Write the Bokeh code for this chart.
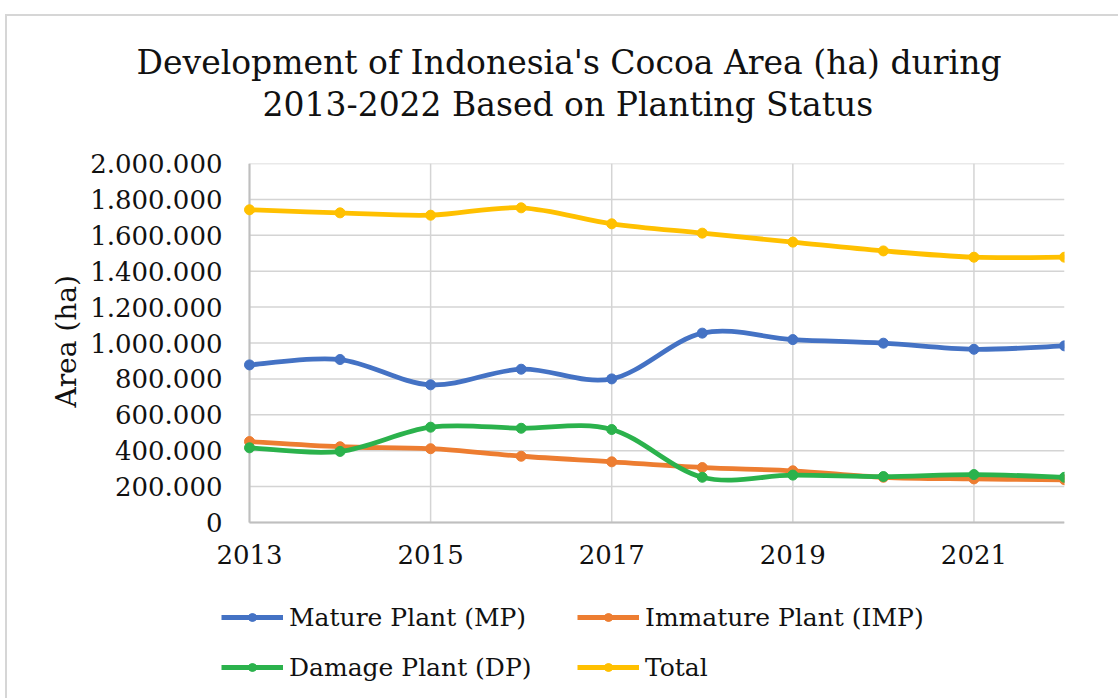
import numpy as np
from bokeh.plotting import figure
from bokeh.models import ColumnDataSource, FixedTicker, Legend, LegendItem, Title
from bokeh.embed import file_html
from bokeh.resources import INLINE

# ---------------- data ----------------
years = [2013, 2014, 2015, 2016, 2017, 2018, 2019, 2020, 2021, 2022]
mature_plant = [878000, 908000, 767000, 854000, 800000, 1055000, 1019000, 999000, 965000, 984000]
immature_plant = [451000, 422000, 411000, 369000, 338000, 306000, 288000, 252000, 243000, 238000]
damage_plant = [416000, 396000, 531000, 525000, 518000, 252000, 264000, 256000, 267000, 252000]
total = [1742000, 1725000, 1712000, 1753000, 1664000, 1612000, 1562000, 1513000, 1478000, 1478000]

series_names = ["Mature Plant (MP)", "Immature Plant (IMP)", "Damage Plant (DP)", "Total"]
series_values = [mature_plant, immature_plant, damage_plant, total]
series_colors = ["#4472C4", "#ED7D31", "#2BB24C", "#FFC000"]

x_ticks = [2013, 2015, 2017, 2019, 2021]
y_ticks = [0, 200000, 400000, 600000, 800000, 1000000, 1200000, 1400000, 1600000, 1800000, 2000000]
y_tick_labels = ["0", "200.000", "400.000", "600.000", "800.000", "1.000.000",
                 "1.200.000", "1.400.000", "1.600.000", "1.800.000", "2.000.000"]
y_max = 2000000

title_line1 = "Development of Indonesia's Cocoa Area (ha) during"
title_line2 = "2013-2022 Based on Planting Status"
y_label = "Area (ha)"

FONT = "DejaVu Serif"
TXT = "#111111"
GRID = "#d4d4d4"
AXIS = "#bfbfbf"


def smooth_segments(xs, ys, t=1.0 / 6.0):
    """Catmull-Rom style cubic Bezier control points (Excel 'smoothed line')."""
    xs = np.asarray(xs, dtype=float)
    ys = np.asarray(ys, dtype=float)
    n = len(xs)
    d = dict(x0=[], y0=[], x1=[], y1=[], cx0=[], cy0=[], cx1=[], cy1=[])
    for i in range(n - 1):
        a = i - 1 if i > 0 else i
        b = i + 2 if i + 2 < n else i + 1
        d["x0"].append(xs[i]); d["y0"].append(ys[i])
        d["x1"].append(xs[i + 1]); d["y1"].append(ys[i + 1])
        d["cx0"].append(xs[i] + (xs[i + 1] - xs[a]) * t)
        d["cy0"].append(ys[i] + (ys[i + 1] - ys[a]) * t)
        d["cx1"].append(xs[i + 1] - (xs[b] - xs[i]) * t)
        d["cy1"].append(ys[i + 1] - (ys[b] - ys[i]) * t)
    return d


# page geometry (page pixels); canvas is offset by the outer frame (margin + border)
OX, OY = 7, 16
W, H = 1120 - OX, 700 - OY
PX_FRAME_LEFT = 210                       # frame starts left of the value axis so the
PX_AXIS, PX_RIGHT = 249, 1064             # legend and the first year label are not clipped
PX_TOP, PX_ZERO, PX_BOTTOM = 163, 522, 700
x_start = years[0] - (PX_AXIS - PX_FRAME_LEFT) * (years[-1] - years[0]) / (PX_RIGHT - PX_AXIS)
y_start = -y_max * (PX_BOTTOM - PX_ZERO) / (PX_ZERO - PX_TOP)

p = figure(width=W, height=H, output_backend="svg", toolbar_location=None,
           x_range=(x_start, years[-1]), y_range=(y_start, y_max),
           min_border_left=PX_FRAME_LEFT - OX, min_border_right=1120 - PX_RIGHT,
           min_border_top=PX_TOP - OY, min_border_bottom=0)
p.styles = {"margin-left": "5px", "margin-top": "14px",
            "border-left": "2px solid #d6d6d6", "border-top": "2px solid #d6d6d6"}
p.background_fill_color = "white"
p.border_fill_color = "white"
p.outline_line_color = None

title_kw = dict(align="left", text_font=FONT, text_font_size="33px",
                text_font_style="normal", text_color=TXT)
p.add_layout(Title(text=title_line2, standoff=80, offset=13 + (PX_AXIS - PX_FRAME_LEFT), **title_kw), "above")
p.add_layout(Title(text=title_line1, standoff=-78, offset=-113 + (PX_AXIS - PX_FRAME_LEFT), **title_kw), "above")

# axes
p.xaxis.fixed_location = 0
p.xaxis.bounds = (years[0], years[-1])
p.xaxis.ticker = FixedTicker(ticks=x_ticks)
p.yaxis.ticker = FixedTicker(ticks=y_ticks)
p.yaxis.major_label_overrides = {v: s for v, s in zip(y_ticks, y_tick_labels)}
for ax in (p.xaxis, p.yaxis):
    ax.major_tick_line_color = None
    ax.minor_tick_line_color = None
    ax.major_tick_out = 0
    ax.major_tick_in = 0
    ax.major_label_text_font = FONT
    ax.major_label_text_font_size = "26px"
    ax.major_label_text_color = TXT
    ax.axis_line_width = 2
p.xaxis.axis_line_color = AXIS
p.yaxis.axis_line_color = None
p.yaxis.major_label_standoff = -(222 - PX_FRAME_LEFT)
p.xaxis.major_label_standoff = 22

# y-axis title as a rotated title in the left panel
p.add_layout(Title(text=y_label, align="left", offset=PX_BOTTOM - 407, standoff=10,
                   text_font=FONT, text_font_size="28px", text_font_style="normal",
                   text_color=TXT), "left")

# grid lines only over the plotting area
p.xgrid.visible = False
p.ygrid.visible = False
p.segment(x0=[years[0]] * len(y_ticks), y0=y_ticks, x1=[years[-1]] * len(y_ticks), y1=y_ticks,
          line_color=GRID, line_width=1.5)
p.segment(x0=x_ticks, y0=[0] * len(x_ticks), x1=x_ticks, y1=[y_max] * len(x_ticks),
          line_color=GRID, line_width=1.5)
# value-axis line at the first year
p.segment(x0=[years[0]], y0=[0], x1=[years[0]], y1=[y_max], line_color=AXIS, line_width=2)

items = {}
for name, vals, col in zip(series_names, series_values, series_colors):
    src = ColumnDataSource(smooth_segments(years, vals))
    r_line = p.bezier(x0="x0", y0="y0", x1="x1", y1="y1", cx0="cx0", cy0="cy0",
                      cx1="cx1", cy1="cy1", source=src, line_color=col, line_width=4.8)
    r_pts = p.scatter(years, vals, size=10, marker="circle", fill_color=col, line_color=col)
    items[name] = LegendItem(label=name, renderers=[r_line, r_pts])

legend_kw = dict(orientation="vertical", spacing=20, padding=0, margin=0,
                 glyph_width=62, glyph_height=20, label_height=30,
                 label_standoff=6,
                 label_text_font=FONT, label_text_font_size="25px", label_text_color=TXT,
                 border_line_color=None, background_fill_alpha=0)
LEG_Y = PX_BOTTOM - 682
leg1 = Legend(items=[items["Mature Plant (MP)"], items["Damage Plant (DP)"]],
              location=(221 - PX_FRAME_LEFT, LEG_Y), **legend_kw)
leg2 = Legend(items=[items["Immature Plant (IMP)"], items["Total"]],
              location=(577 - PX_FRAME_LEFT, LEG_Y), **legend_kw)
p.add_layout(leg1)
p.add_layout(leg2)

open("out.html", "w").write(file_html(p, INLINE))
